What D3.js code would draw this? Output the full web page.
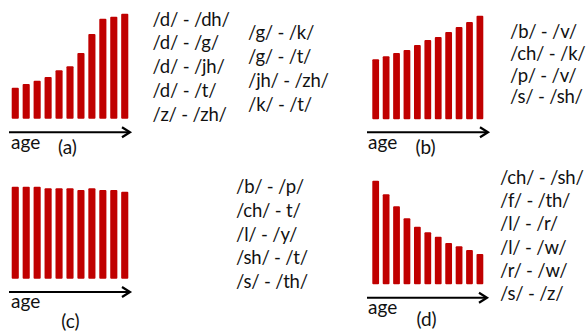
<!DOCTYPE html>
<html>
<head>
<meta charset="utf-8">
<script src="https://cdn.jsdelivr.net/npm/d3@7"></script>
<style>
  body { margin: 0; background: #fff; }
  svg text { font-family: Lato, "Open Sans", sans-serif; fill: #111; }
</style>
</head>
<body>
<svg width="587" height="333"></svg>
<script>
// Data: relative bar heights over 11 age steps, plus the phoneme pairs per panel
const ages = d3.range(1, 12);

const trendA = [31, 34.7, 38, 41.7, 48.4, 52.4, 65.7, 84.7, 100, 102, 105];
const trendB = [60, 63, 66.3, 69.3, 74.3, 79.3, 82.3, 87.3, 92.3, 97.3, 103.6];
const trendC = [92, 92, 92, 90.4, 90.4, 90.4, 88.7, 90.4, 88.7, 88.7, 87];
const trendD = [103.6, 90, 78, 66, 57.6, 52, 47.6, 41.3, 38, 34.3, 30.3];

const pairsA1 = ['/d/ - /dh/', '/d/ - /g/', '/d/ - /jh/', '/d/ - /t/', '/z/ - /zh/'];
const pairsA2 = ['/g/ - /k/', '/g/ - /t/', '/jh/ - /zh/', '/k/ - /t/'];
const pairsB = ['/b/ - /v/', '/ch/ - /k/', '/p/ - /v/', '/s/ - /sh/'];
const pairsC = ['/b/ - /p/', '/ch/ - t/', '/l/ - /y/', '/sh/ - /t/', '/s/ - /th/'];
const pairsD = ['/ch/ - /sh/', '/f/ - /th/', '/l/ - /r/', '/l/ - /w/', '/r/ - /w/', '/s/ - /z/'];

const panelLabels = ['(a)', '(b)', '(c)', '(d)'];

const svg = d3.select('svg');
const barColor = '#c00000';
const fontSize = 18.5;

// layout of each panel
const panels = [
    { values: trendA, label: panelLabels[0], bars: [11.7, 128.3], base: 118.7, arrowY: 132.3, arrowX: [9, 130],
      ageXY: [11, 148.5], labelXY: [67.5, 153.5],
      texts: [{ lines: pairsA1, x: 152.5, y: 18.5, step: 23.9 }, { lines: pairsA2, x: 248, y: 32, step: 24 }] },
    { values: trendB, label: panelLabels[1], bars: [372.3, 483.3], base: 119.3, arrowY: 132.3, arrowX: [367, 488],
      ageXY: [368, 148.5], labelXY: [425.5, 153.5],
      texts: [{ lines: pairsB, x: 510, y: 31, step: 21.8 }] },
    { values: trendC, label: panelLabels[2], bars: [11.7, 128.3], base: 278.7, arrowY: 292, arrowX: [9, 130],
      ageXY: [11, 307.5], labelXY: [70.5, 327.5],
      texts: [{ lines: pairsC, x: 236, y: 186, step: 23.8 }] },
    { values: trendD, label: panelLabels[3], bars: [372.3, 483.3], base: 284.3, arrowY: 297.7, arrowX: [367, 487],
      ageXY: [368, 313.5], labelXY: [426.5, 325.5],
      texts: [{ lines: pairsD, x: 500, y: 177, step: 23.2 }] }
];

// bar height in px per value unit
const yScale = d3.scaleLinear().domain([0, 100]).range([0, 100]);

panels.forEach(p => {
    const g = svg.append('g');

    const xScale = d3.scaleBand()
        .domain(ages)
        .range(p.bars)
        .paddingInner(0.35)
        .paddingOuter(0);

    g.selectAll('rect')
        .data(p.values)
        .join('rect')
        .attr('x', (d, i) => xScale(ages[i]))
        .attr('y', d => p.base - yScale(d))
        .attr('width', xScale.bandwidth())
        .attr('height', d => yScale(d))
        .attr('rx', 1)
        .attr('fill', barColor);

    // age arrow
    const [ax0, ax1] = p.arrowX;
    g.append('line')
        .attr('x1', ax0).attr('x2', ax1 - 1)
        .attr('y1', p.arrowY).attr('y2', p.arrowY)
        .attr('stroke', '#000').attr('stroke-width', 2);
    g.append('path')
        .attr('d', `M${ax1 - 8},${p.arrowY - 5}L${ax1},${p.arrowY}L${ax1 - 8},${p.arrowY + 5}`)
        .attr('fill', 'none').attr('stroke', '#000').attr('stroke-width', 2.2);

    g.append('text')
        .attr('x', p.ageXY[0]).attr('y', p.ageXY[1])
        .attr('font-size', 19)
        .text('age');

    g.append('text')
        .attr('x', p.labelXY[0]).attr('y', p.labelXY[1])
        .attr('text-anchor', 'middle')
        .attr('font-size', 19)
        .text(p.label);

    p.texts.forEach(t => {
        g.selectAll(null)
            .data(t.lines)
            .join('text')
            .attr('x', t.x)
            .attr('y', (d, i) => t.y + i * t.step)
            .attr('dominant-baseline', 'central')
            .attr('font-size', fontSize)
            .attr('letter-spacing', -0.2)
            .text(d => d);
    });
});
</script>
</body>
</html>
